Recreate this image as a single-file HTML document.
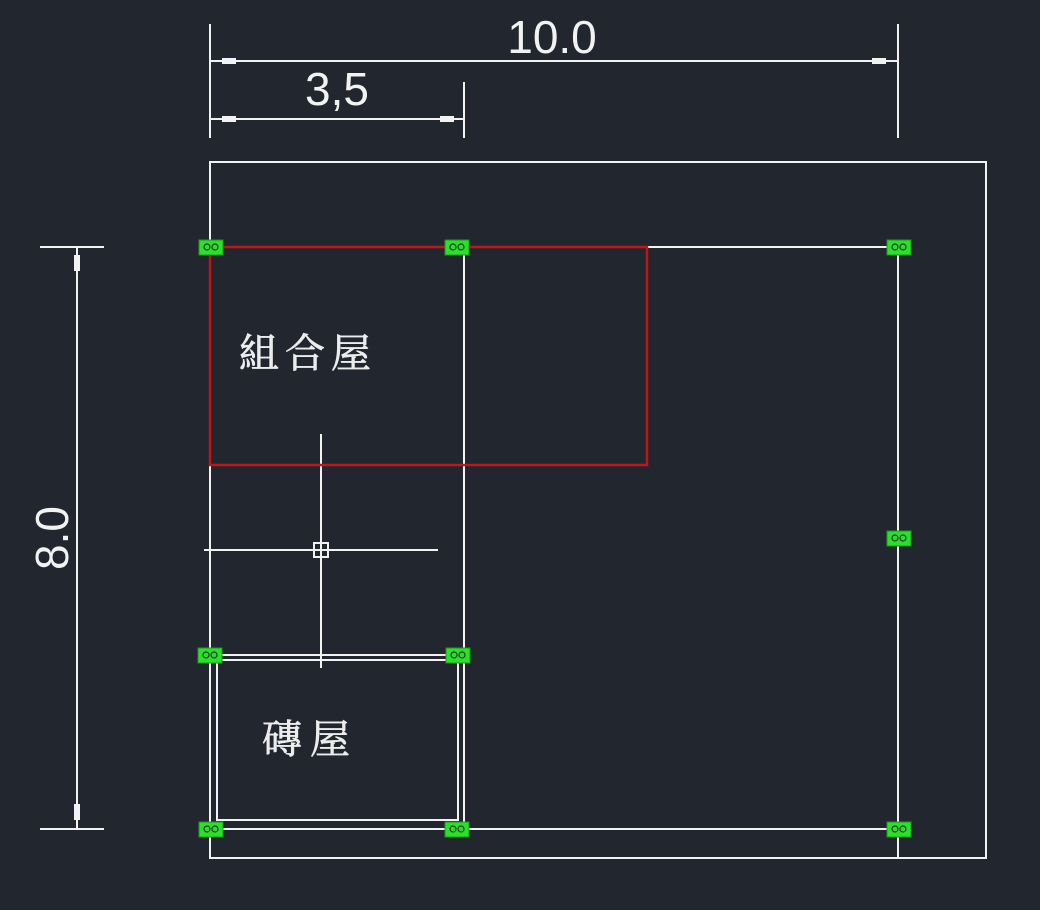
<!DOCTYPE html>
<html><head><meta charset="utf-8">
<style>
html,body{margin:0;padding:0;background:#21262f;}
svg{display:block;}
</style></head>
<body>
<svg width="1040" height="910" viewBox="0 0 1040 910" xmlns="http://www.w3.org/2000/svg">
<rect width="1040" height="910" fill="#21262f"/>
<g stroke="#f2f2f2" stroke-width="2" fill="none">
  <rect x="210" y="162" width="776" height="696"/>
  <line x1="210" y1="24" x2="210" y2="138"/>
  <line x1="898" y1="24" x2="898" y2="138"/>
  <line x1="210" y1="61" x2="898" y2="61"/>
  <line x1="464" y1="82" x2="464" y2="138"/>
  <line x1="210" y1="119" x2="464" y2="119"/>
  <line x1="40" y1="247" x2="104" y2="247"/>
  <line x1="40" y1="829" x2="104" y2="829"/>
  <line x1="77" y1="247" x2="77" y2="829"/>
  <line x1="647" y1="247" x2="898" y2="247"/>
  <line x1="898" y1="247" x2="898" y2="858"/>
  <line x1="464" y1="247" x2="464" y2="829"/>
  <line x1="210" y1="465" x2="210" y2="829"/>
  <line x1="210" y1="829" x2="898" y2="829"/>
  <line x1="210" y1="655" x2="464" y2="655"/>
  <rect x="217" y="660" width="241" height="160"/>
  <line x1="321" y1="434" x2="321" y2="668"/>
  <line x1="204" y1="550" x2="438" y2="550"/>
  <rect x="314" y="543" width="14" height="14"/>
</g>
<g fill="#f2f2f2">
  <rect x="222" y="58" width="14" height="6"/>
  <rect x="872" y="58" width="14" height="6"/>
  <rect x="222" y="116" width="14" height="6"/>
  <rect x="440" y="116" width="14" height="6"/>
  <rect x="74" y="255" width="6" height="16"/>
  <rect x="74" y="804" width="6" height="16"/>
</g>
<rect x="210" y="247" width="437" height="218" fill="none" stroke="#c0141b" stroke-width="2.5"/>
<g fill="#29e02b" stroke="#1a9a1a" stroke-width="1">
  <rect x="199" y="240" width="24" height="15"/>
  <rect x="445" y="240" width="24" height="15"/>
  <rect x="887" y="240" width="24" height="15"/>
  <rect x="887" y="531" width="24" height="15"/>
  <rect x="198" y="648" width="24" height="15"/>
  <rect x="446" y="648" width="24" height="15"/>
  <rect x="199" y="822" width="24" height="15"/>
  <rect x="445" y="822" width="24" height="15"/>
  <rect x="887" y="822" width="24" height="15"/>
</g>
<g stroke="#2b3a2b" stroke-width="1.2" fill="none">
  <circle cx="207" cy="247" r="3"/><circle cx="215" cy="247" r="3"/>
  <circle cx="453" cy="247" r="3"/><circle cx="461" cy="247" r="3"/>
  <circle cx="895" cy="247" r="3"/><circle cx="903" cy="247" r="3"/>
  <circle cx="895" cy="538" r="3"/><circle cx="903" cy="538" r="3"/>
  <circle cx="206" cy="655" r="3"/><circle cx="214" cy="655" r="3"/>
  <circle cx="454" cy="655" r="3"/><circle cx="462" cy="655" r="3"/>
  <circle cx="207" cy="829" r="3"/><circle cx="215" cy="829" r="3"/>
  <circle cx="453" cy="829" r="3"/><circle cx="461" cy="829" r="3"/>
  <circle cx="895" cy="829" r="3"/><circle cx="903" cy="829" r="3"/>
</g>
<g fill="#f2f2f2" font-family="Liberation Sans, sans-serif" font-size="46">
  <text x="552" y="53" text-anchor="middle">10.0</text>
  <text x="337" y="105" text-anchor="middle">3,5</text>
  <text x="0" y="0" text-anchor="middle" transform="translate(68,538) rotate(-90)">8.0</text>
</g>
<g fill="#ececec" stroke="#ececec" stroke-width="0.7" font-family="Liberation Serif, Noto Serif CJK SC, serif" font-size="40">
  <text x="239" y="367" letter-spacing="6">組合屋</text>
  <text x="262" y="753" letter-spacing="8">磚屋</text>
</g>
</svg>
</body></html>
